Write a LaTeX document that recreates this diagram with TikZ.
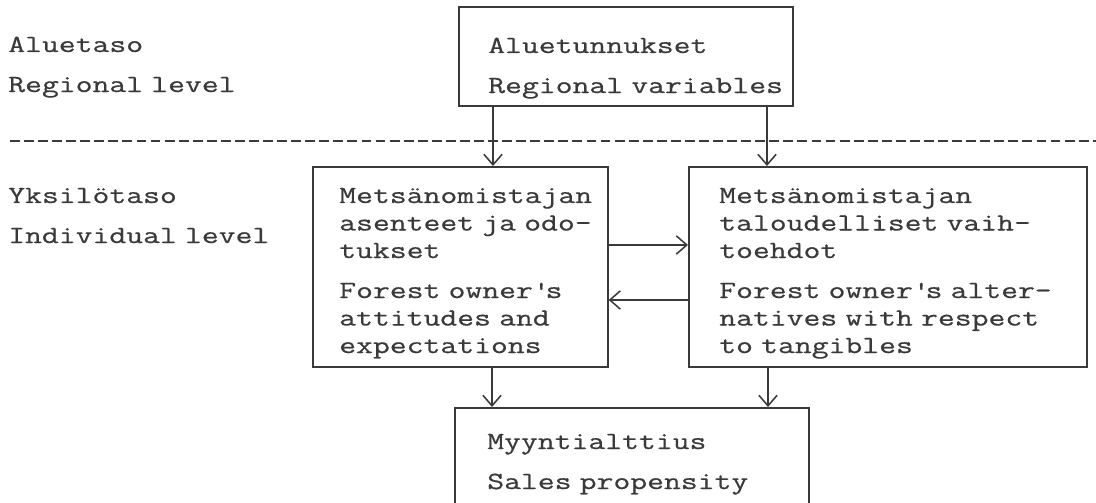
\documentclass[tikz,border=0pt]{standalone}
\usepackage{fontspec}
\newfontfamily\typewriter[FakeStretch=1.33,WordSpace=1.4,FakeBold=0.6]{Latin Modern Mono}
\usetikzlibrary{positioning}
\usetikzlibrary {arrows.meta}
\definecolor{ink}{HTML}{3A3A3A}

\begin{document}
\begin{tikzpicture}[x=0.025cm,y=-0.025cm,
  box/.style={draw=ink,line width=1.1pt,inner sep=0pt,anchor=north west},
  txt/.style={font=\boxfont,text=ink,inner sep=0pt,anchor=base west,align=left,text width=10cm},
  arr/.style={draw=ink,line width=1.1pt,-{Straight Barb[length=7.5pt,width=13pt]}}]

\def\boxfont{\typewriter\fontsize{17.5pt}{19.56pt}\selectfont}
\def\gap{\\[8.9pt]}

\useasboundingbox (0,0) rectangle (1096,503);

% levels
\node[txt] (lvlA) at (8,52) {Aluetaso\gap Regional level};
\node[txt] (lvlI) at (8,203) {Yksilötaso\gap Individual level};

\coordinate (dl) at (10,141);
\coordinate (dr) at (1096,141);
\draw[ink,line width=1.4pt,dash pattern=on 7pt off 3pt] (dl) -- (dr);

% boxes
\node[box,minimum width=8.35cm,minimum height=2.475cm] (region) at (458,6) {};
\node[box,minimum width=7.375cm,minimum height=5cm] (owner) at (312,166) {};
\node[box,minimum width=9.95cm,minimum height=5cm] (alter) at (688,166) {};
\node[box,minimum width=8.85cm,minimum height=2.825cm] (sales) at (454,407) {};

\node[txt] (regionT) at (488,53) {Aluetunnukset\gap Regional variables};
\node[txt] (ownerT) at (339,203) {Metsänomistajan\\asenteet ja odo-\\tukset\gap
  Forest owner\textquotesingle s\\attitudes and\\expectations};
\node[txt] (alterT) at (719,203) {Metsänomistajan\\taloudelliset vaih-\\toehdot\gap
  Forest owner\textquotesingle s alter-\\natives with respect\\to tangibles};
\node[txt] (salesT) at (487,449) {Myyntialttius\gap Sales propensity};

% connectors
\coordinate (r1) at (493,0);
\coordinate (r2) at (767,0);
\coordinate (s1) at (492,0);
\coordinate (s2) at (768,0);
\coordinate (h1) at (0,245);
\coordinate (h2) at (0,300);

\draw[arr] (region.south -| r1) -- (owner.north -| r1);
\draw[arr] (region.south -| r2) -- (alter.north -| r2);
\draw[arr] (owner.east |- h1) -- (alter.west |- h1);
\draw[arr] (alter.west |- h2) -- (owner.east |- h2);
\draw[arr] (owner.south -| s1) -- (sales.north -| s1);
\draw[arr] (alter.south -| s2) -- (sales.north -| s2);
\end{tikzpicture}
\end{document}
